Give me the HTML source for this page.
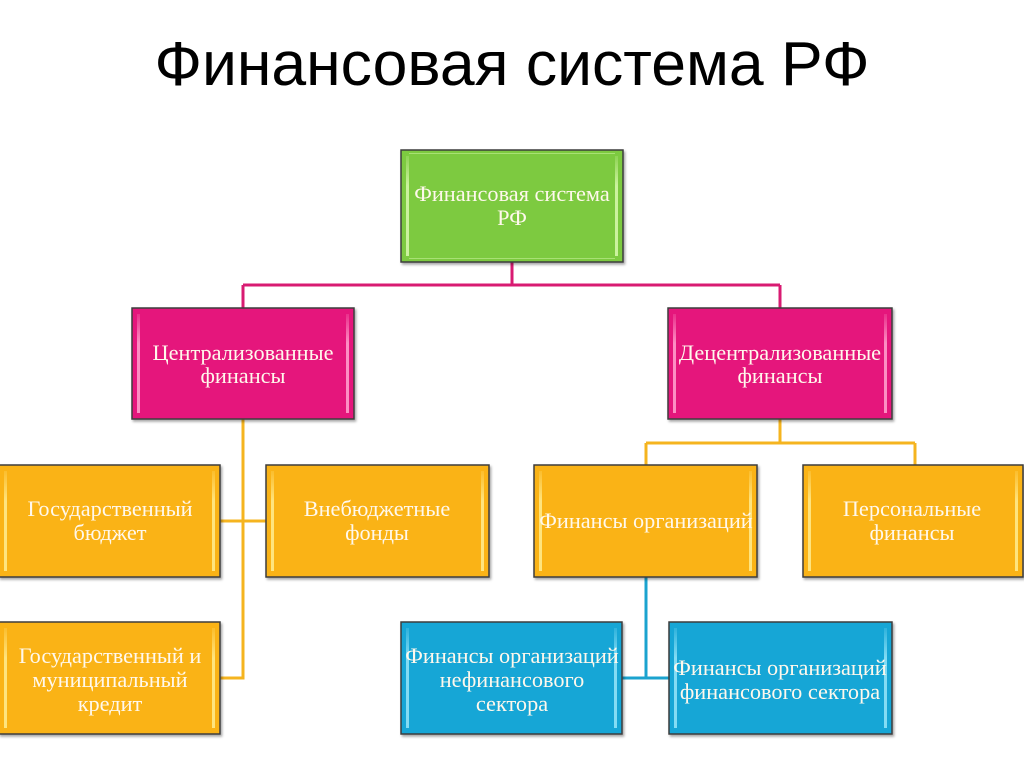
<!DOCTYPE html>
<html>
<head>
<meta charset="utf-8">
<style>
  html,body{margin:0;padding:0;background:#fff;}
  svg{display:block;}
  .t{font-family:"Liberation Serif","DejaVu Serif",serif;font-size:22.3px;fill:#fff8ec;text-anchor:middle;}
  .title{font-family:"Liberation Sans","DejaVu Sans",sans-serif;font-size:62.5px;fill:#000;text-anchor:middle;}
</style>
</head>
<body>
<svg width="1024" height="767" viewBox="0 0 1024 767" xmlns="http://www.w3.org/2000/svg">
  <defs>
    <filter id="sh" x="-10%" y="-10%" width="120%" height="130%">
      <feDropShadow dx="1.5" dy="2" stdDeviation="1.2" flood-color="#000" flood-opacity="0.35"/>
    </filter>
    <linearGradient id="gY" x1="0" y1="0" x2="0" y2="1">
      <stop offset="0" stop-color="#ffe98a" stop-opacity="0.2"/>
      <stop offset="0.3" stop-color="#ffe98a" stop-opacity="0.9"/>
      <stop offset="1" stop-color="#ffe98a" stop-opacity="0.9"/>
    </linearGradient>
    <linearGradient id="gP" x1="0" y1="0" x2="0" y2="1">
      <stop offset="0" stop-color="#ff9ccb" stop-opacity="0.2"/>
      <stop offset="0.3" stop-color="#ff9ccb" stop-opacity="0.9"/>
      <stop offset="1" stop-color="#ff9ccb" stop-opacity="0.9"/>
    </linearGradient>
    <linearGradient id="gG" x1="0" y1="0" x2="0" y2="1">
      <stop offset="0" stop-color="#d4f7a8" stop-opacity="0.2"/>
      <stop offset="0.3" stop-color="#d4f7a8" stop-opacity="0.9"/>
      <stop offset="1" stop-color="#d4f7a8" stop-opacity="0.9"/>
    </linearGradient>
    <linearGradient id="gB" x1="0" y1="0" x2="0" y2="1">
      <stop offset="0" stop-color="#8fe2f7" stop-opacity="0.2"/>
      <stop offset="0.3" stop-color="#8fe2f7" stop-opacity="0.9"/>
      <stop offset="1" stop-color="#8fe2f7" stop-opacity="0.9"/>
    </linearGradient>
  </defs>

  <rect width="1024" height="767" fill="#fff"/>

  <!-- Title -->
  <text class="title" x="512" y="85">Финансовая система РФ</text>

  <!-- Connectors -->
  <g fill="none" stroke-width="3">
    <path d="M512 262 V285 M243 285 H780 M243 285 V308 M780 285 V308" stroke="#d81b72"/>
    <path d="M243 419 V678 H220 M220 521 H266" stroke="#f5b41f"/>
    <path d="M780 419 V443 M646 443 H915 M646 443 V465 M915 443 V465" stroke="#f5b41f"/>
    <path d="M646 577 V678 M622 678 H669" stroke="#1ba3cf"/>
  </g>

  <!-- Green box -->
  <g filter="url(#sh)">
    <rect x="401" y="150" width="222" height="112" fill="#7dca41" stroke="#3d3d3d" stroke-width="1.5"/>
  </g>
  <rect x="406" y="156" width="3" height="100" fill="url(#gG)"/>
  <rect x="615" y="156" width="3" height="100" fill="url(#gG)"/>
  <rect x="409" y="153" width="206" height="1" fill="#d4f7a8" opacity="0.5"/>
  <rect x="409" y="258" width="206" height="1" fill="#d4f7a8" opacity="0.5"/>
  <text class="t" x="512" y="201">Финансовая система</text>
  <text class="t" x="512" y="225">РФ</text>

  <!-- Pink boxes -->
  <g filter="url(#sh)">
    <rect x="132" y="308" width="222" height="111" fill="#e5177b" stroke="#3d3d3d" stroke-width="1.5"/>
    <rect x="668" y="308" width="224" height="111" fill="#e5177b" stroke="#3d3d3d" stroke-width="1.5"/>
  </g>
  <rect x="137" y="314" width="3" height="99" fill="url(#gP)"/>
  <rect x="346" y="314" width="3" height="99" fill="url(#gP)"/>
  <rect x="673" y="314" width="3" height="99" fill="url(#gP)"/>
  <rect x="884" y="314" width="3" height="99" fill="url(#gP)"/>
  <text class="t" x="243" y="360">Централизованные</text>
  <text class="t" x="243" y="383">финансы</text>
  <text class="t" x="780" y="360">Децентрализованные</text>
  <text class="t" x="780" y="383">финансы</text>

  <!-- Yellow boxes -->
  <g filter="url(#sh)">
    <rect x="-1" y="465" width="221" height="112" fill="#fab317" stroke="#3d3d3d" stroke-width="1.5"/>
    <rect x="266" y="465" width="223" height="112" fill="#fab317" stroke="#3d3d3d" stroke-width="1.5"/>
    <rect x="534" y="465" width="223" height="112" fill="#fab317" stroke="#3d3d3d" stroke-width="1.5"/>
    <rect x="803" y="465" width="220" height="112" fill="#fab317" stroke="#3d3d3d" stroke-width="1.5"/>
    <rect x="-1" y="622" width="221" height="112" fill="#fab317" stroke="#3d3d3d" stroke-width="1.5"/>
  </g>
  <g fill="url(#gY)">
    <rect x="4" y="471" width="3" height="100"/>
    <rect x="212" y="471" width="3" height="100"/>
    <rect x="271" y="471" width="3" height="100"/>
    <rect x="481" y="471" width="3" height="100"/>
    <rect x="539" y="471" width="3" height="100"/>
    <rect x="749" y="471" width="3" height="100"/>
    <rect x="808" y="471" width="3" height="100"/>
    <rect x="1015" y="471" width="3" height="100"/>
    <rect x="4" y="628" width="3" height="100"/>
    <rect x="212" y="628" width="3" height="100"/>
  </g>
  <text class="t" x="110" y="516">Государственный</text>
  <text class="t" x="110" y="540">бюджет</text>
  <text class="t" x="377" y="516">Внебюджетные</text>
  <text class="t" x="377" y="540">фонды</text>
  <text class="t" x="646" y="528">Финансы организаций</text>
  <text class="t" x="912" y="516">Персональные</text>
  <text class="t" x="912" y="540">финансы</text>
  <text class="t" x="110" y="663">Государственный и</text>
  <text class="t" x="110" y="687">муниципальный</text>
  <text class="t" x="110" y="711">кредит</text>

  <!-- Blue boxes -->
  <g filter="url(#sh)">
    <rect x="401" y="622" width="221" height="112" fill="#12a6d6" stroke="#3d3d3d" stroke-width="1.5"/>
    <rect x="669" y="622" width="223" height="112" fill="#12a6d6" stroke="#3d3d3d" stroke-width="1.5"/>
  </g>
  <g fill="url(#gB)">
    <rect x="406" y="628" width="3" height="100"/>
    <rect x="614" y="628" width="3" height="100"/>
    <rect x="674" y="628" width="3" height="100"/>
    <rect x="884" y="628" width="3" height="100"/>
  </g>
  <text class="t" x="512" y="663">Финансы организаций</text>
  <text class="t" x="512" y="687">нефинансового</text>
  <text class="t" x="512" y="711">сектора</text>
  <text class="t" x="780" y="675">Финансы организаций</text>
  <text class="t" x="780" y="699">финансового сектора</text>
</svg>
</body>
</html>
